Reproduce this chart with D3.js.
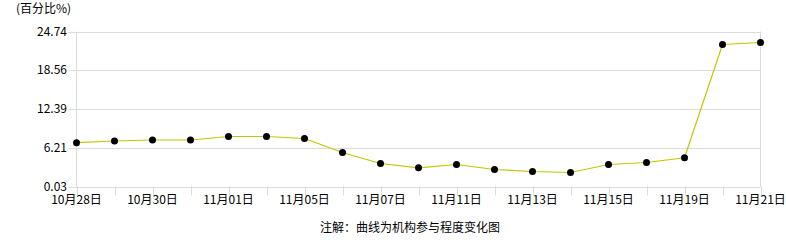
<!DOCTYPE html>
<html>
<head>
<meta charset="utf-8">
<script src="https://cdn.jsdelivr.net/npm/d3@7"></script>
<style>
body { margin: 0; background: #fff; }
text { font-family: "Noto Sans CJK SC", "DejaVu Sans", sans-serif; font-size: 12px; fill: #000; }
</style>
</head>
<body>
<div id="chart"></div>
<script>
// trading days, every other one is labelled
var dates = ["10月28日", "10月29日", "10月30日", "10月31日", "11月01日", "11月04日", "11月05日",
    "11月06日", "11月07日", "11月08日", "11月11日", "11月12日", "11月13日", "11月14日",
    "11月15日", "11月18日", "11月19日", "11月20日", "11月21日"];
var values = [7.01, 7.28, 7.44, 7.44, 8.0, 8.0, 7.68, 5.45, 3.70, 3.01, 3.54, 2.74, 2.42, 2.26,
    3.54, 3.86, 4.61, 22.67, 22.99];
var yTicks = [0.03, 6.21, 12.39, 18.56, 24.74];

var width = 786, height = 240;
var plotLeft = 76.5, plotRight = 760.5, plotTop = 31.5, plotBottom = 186.5;

var svg = d3.select("#chart").append("svg")
    .attr("width", width)
    .attr("height", height);

var x = d3.scalePoint().domain(dates).range([plotLeft, plotRight]);
var y = d3.scaleLinear().domain([0.03, 24.74]).range([plotBottom, plotTop]);

// horizontal grid
svg.append("g").selectAll("line")
    .data(yTicks)
    .enter().append("line")
    .attr("x1", plotLeft - 8).attr("x2", plotRight)
    .attr("y1", function(d) { return Math.round(y(d)) + 0.5; })
    .attr("y2", function(d) { return Math.round(y(d)) + 0.5; })
    .attr("stroke", "#dcdcdc");

// axes frame
svg.append("line").attr("x1", plotLeft).attr("x2", plotLeft).attr("y1", plotTop).attr("y2", plotBottom)
    .attr("stroke", "#dcdcdc");
svg.append("line").attr("x1", plotRight).attr("x2", plotRight).attr("y1", plotTop).attr("y2", plotBottom)
    .attr("stroke", "#dcdcdc");

// x ticks
svg.append("g").selectAll("line")
    .data(dates)
    .enter().append("line")
    .attr("x1", function(d) { return Math.round(x(d)) + 0.5; })
    .attr("x2", function(d) { return Math.round(x(d)) + 0.5; })
    .attr("y1", plotBottom).attr("y2", plotBottom + 9)
    .attr("stroke", "#dcdcdc");

svg.append("g").selectAll("text")
    .data(dates.filter(function(d, i) { return i % 2 == 0; }))
    .enter().append("text")
    .attr("x", function(d) { return x(d); })
    .attr("y", 204)
    .attr("text-anchor", "middle")
    .text(function(d) { return d; });

// y labels
svg.append("g").selectAll("text")
    .data(yTicks)
    .enter().append("text")
    .attr("x", 67)
    .attr("y", function(d) { return y(d) + 4; })
    .attr("text-anchor", "end")
    .text(function(d) { return d.toFixed(2); });

svg.append("text").attr("x", 16).attr("y", 13).text("(百分比%)");
svg.append("text").attr("x", 410).attr("y", 232).attr("text-anchor", "middle")
    .text("注解：曲线为机构参与程度变化图");

var line = d3.line()
    .x(function(d, i) { return x(dates[i]); })
    .y(function(d) { return y(d); });

svg.append("path")
    .datum(values)
    .attr("d", line)
    .attr("fill", "none")
    .attr("stroke", "#c4c400")
    .attr("stroke-width", 1.2);

svg.append("g").selectAll("circle")
    .data(values)
    .enter().append("circle")
    .attr("cx", function(d, i) { return x(dates[i]); })
    .attr("cy", function(d) { return y(d); })
    .attr("r", 3.5)
    .attr("fill", "#000");
</script>
</body>
</html>
